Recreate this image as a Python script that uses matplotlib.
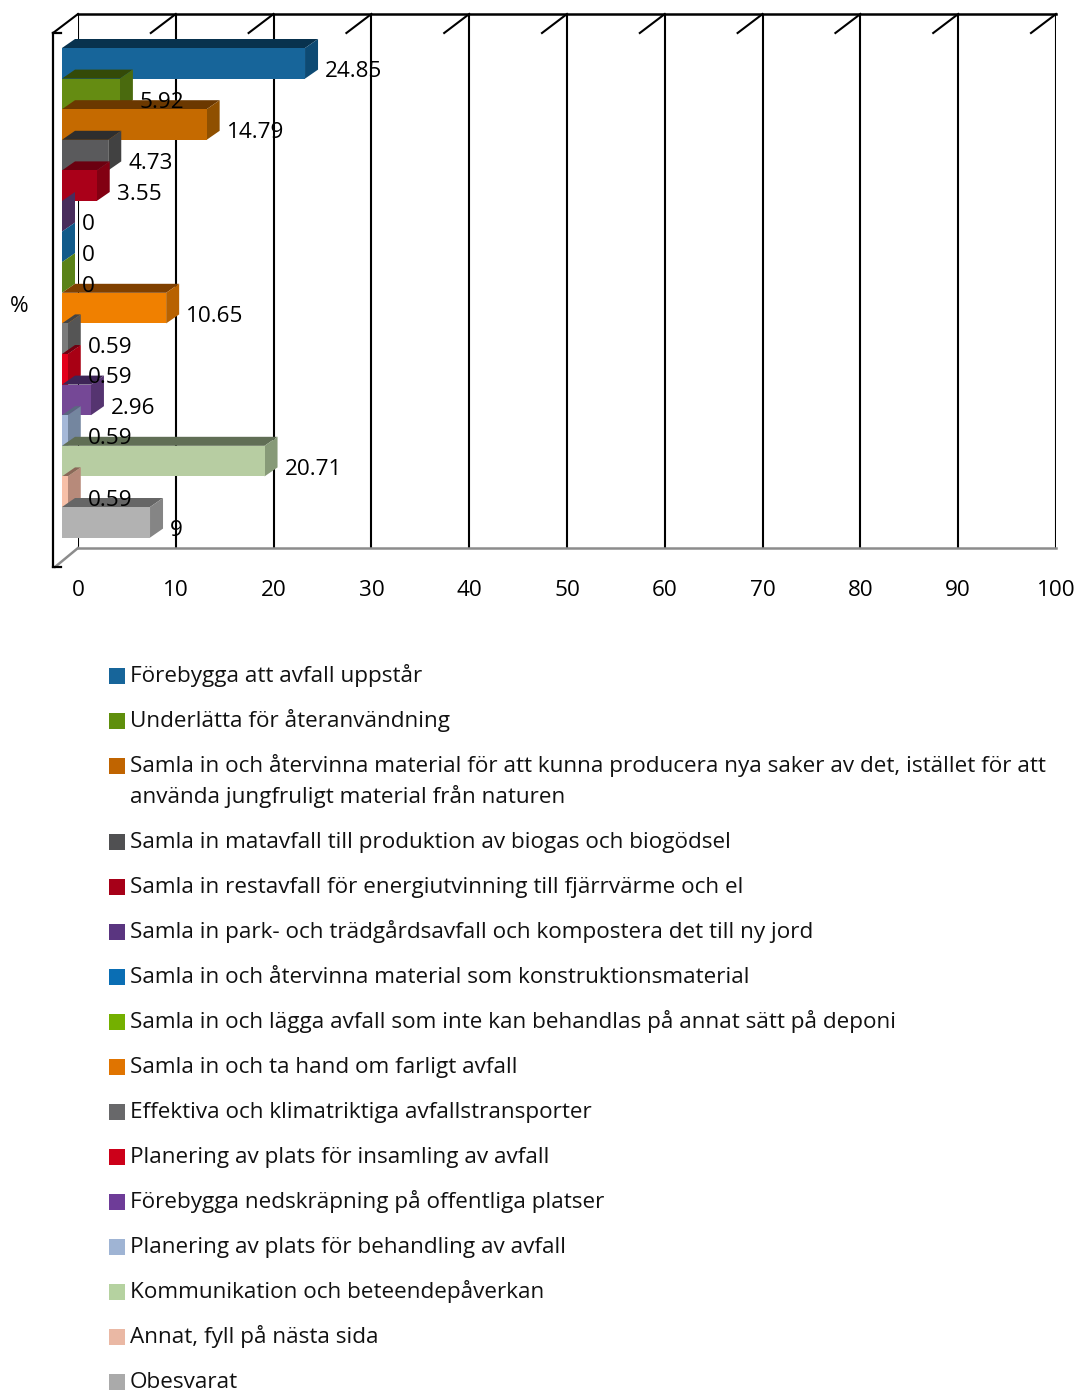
import matplotlib
matplotlib.use("Agg")
import matplotlib.pyplot as plt
from matplotlib.patches import Polygon, Rectangle

plt.rcParams['font.family'] = ['Open Sans', 'DejaVu Sans']

# ---- data -------------------------------------------------------------
categories = [
    "Förebygga att avfall uppstår",
    "Underlätta för återanvändning",
    "Samla in och återvinna material för att kunna producera nya saker av det, istället för att\nanvända jungfruligt material från naturen",
    "Samla in matavfall till produktion av biogas och biogödsel",
    "Samla in restavfall för energiutvinning till fjärrvärme och el",
    "Samla in park- och trädgårdsavfall och kompostera det till ny jord",
    "Samla in och återvinna material som konstruktionsmaterial",
    "Samla in och lägga avfall som inte kan behandlas på annat sätt på deponi",
    "Samla in och ta hand om farligt avfall",
    "Effektiva och klimatriktiga avfallstransporter",
    "Planering av plats för insamling av avfall",
    "Förebygga nedskräpning på offentliga platser",
    "Planering av plats för behandling av avfall",
    "Kommunikation och beteendepåverkan",
    "Annat, fyll på nästa sida",
    "Obesvarat",
]
values = [24.85, 5.92, 14.79, 4.73, 3.55, 0, 0, 0, 10.65, 0.59, 0.59, 2.96,
          0.59, 20.71, 0.59, 9]
value_labels = ["24.85", "5.92", "14.79", "4.73", "3.55", "0", "0", "0",
                "10.65", "0.59", "0.59", "2.96", "0.59", "20.71", "0.59", "9"]
x_ticks = [0, 10, 20, 30, 40, 50, 60, 70, 80, 90, 100]
y_axis_label = "%"

# ---- colours: front face, top face, side face ---------------------------
front_colors = ["#17659a", "#658c12", "#c56a00", "#5a5a5c", "#aa0019",
                "#5f3a7a", "#0f6eaf", "#7aae1e", "#f08000", "#7b7b7b",
                "#e3001b", "#754896", "#a5b8d8", "#b7cda2", "#f7c0a8",
                "#b2b2b2"]
top_colors = ["#08324e", "#344a08", "#6b3800", "#2e2e2e", "#6b0010",
              "#2e1a3c", "#083a5c", "#3a5510", "#804000", "#444444",
              "#700010", "#3e2556", "#5a6880", "#606e55", "#8a6858",
              "#666666"]
side_colors = ["#0d4a73", "#4a6a0e", "#8f5000", "#414141", "#820012",
               "#482c5c", "#115a8a", "#5a8218", "#b86200", "#555555",
               "#a80014", "#553470", "#74869f", "#879a78", "#b78a7a",
               "#858585"]
legend_colors = ["#17659a", "#5f8f0c", "#c06400", "#505052", "#a60018",
                 "#5a3580", "#0a6eb4", "#74b000", "#e07400", "#68686a",
                 "#cc0019", "#6e3c98", "#9fb4d4", "#b5d2a0", "#eab8a4",
                 "#aaaaaa"]

FS = 16.2
W, H = 1076, 1391
fig = plt.figure(figsize=(W / 100, H / 100), dpi=100)

# back wall of the 3-D box, in pixels
wall_l, wall_r, wall_t, wall_b = 78, 1056, 14, 548
ax = fig.add_axes([wall_l / W, 1 - wall_b / H,
                   (wall_r - wall_l) / W, (wall_b - wall_t) / H])

slot_px = 30.6                       # height of one bar in pixels
px_x = (wall_r - wall_l) / 100.0     # pixels per percent
y_top = -0.5 - 25 / slot_px
y_bot = y_top + (wall_b - wall_t) / slot_px
ax.set_xlim(0, 100)
ax.set_ylim(y_bot, y_top)


def dx(px):
    return px / px_x


def dy(px):
    return px / slot_px


# depth offsets of the bar faces relative to the back wall
fx, fy = dx(-16), dy(9)     # front face
bx, by = dx(-3), dy(0)      # back face

# ---- box: back wall grid, depth lines, front edge ----------------------
for t in x_ticks:
    ax.plot([t, t], [y_bot, y_top], color="black", lw=1.5, zorder=1,
            solid_capstyle="butt")
    ax.plot([t, t + dx(-25)], [y_top, y_top + dy(19)], color="black",
            lw=1.5, zorder=1, clip_on=False)
ax.plot([0, 100], [y_top, y_top], color="black", lw=1.8, zorder=1,
        clip_on=False)
ax.plot([0, 100], [y_bot, y_bot], color="#8c8c8c", lw=1.8, zorder=1,
        clip_on=False)
ax.plot([0, dx(-23)], [y_bot, y_bot + dy(19)], color="#8c8c8c", lw=1.8,
        zorder=1, clip_on=False)
front_x = dx(-25)
ax.plot([front_x, front_x], [y_top + dy(19), y_bot + dy(19)],
        color="black", lw=1.6, zorder=1, clip_on=False)
for yy in (y_top + dy(19), y_bot + dy(19)):
    ax.plot([front_x, front_x + dx(8)], [yy, yy], color="black", lw=1.6,
            zorder=1, clip_on=False)

for s in ax.spines.values():
    s.set_visible(False)

# ---- 3-D bars -----------------------------------------------------------
for i, v in enumerate(values):
    y0, y1 = i - 0.5, i + 0.5
    z = 3 + i * 0.01
    top = Polygon([(fx, fy + y0), (fx + v, fy + y0), (bx + v, by + y0),
                   (bx, by + y0)], closed=True, facecolor=top_colors[i],
                  edgecolor="none", zorder=z, clip_on=False)
    side = Polygon([(fx + v, fy + y0), (bx + v, by + y0), (bx + v, by + y1),
                    (fx + v, fy + y1)], closed=True,
                   facecolor=side_colors[i], edgecolor="none", zorder=z,
                   clip_on=False)
    front = Rectangle((fx, fy + y0), v, 1.0, facecolor=front_colors[i],
                      edgecolor="none", zorder=z, clip_on=False)
    ax.add_patch(top)
    ax.add_patch(side)
    ax.add_patch(front)

for i, (v, lab) in enumerate(zip(values, value_labels)):
    ax.text(bx + v + dx(7), i + dy(15), lab, ha="left",
            va="center_baseline", fontsize=FS, color="black", zorder=10)

# ---- axes labels --------------------------------------------------------
ax.set_yticks([])
ax.set_xticks(x_ticks)
ax.set_xticklabels([str(t) for t in x_ticks], fontsize=FS)
ax.tick_params(axis="x", length=0, pad=23)
ax.set_ylabel(y_axis_label, rotation=0, fontsize=FS, ha="center",
              va="center")
ax.yaxis.set_label_coords((19 - wall_l) / (wall_r - wall_l),
                          1 - (306 - wall_t) / (wall_b - wall_t))

# ---- legend -------------------------------------------------------------
row_y = 676
for name, col in zip(categories, legend_colors):
    fig.patches.append(Rectangle((109 / W, 1 - (row_y + 8) / H), 16 / W,
                                 16 / H, transform=fig.transFigure,
                                 facecolor=col, edgecolor="none"))
    lines = name.split("\n")
    for k, line in enumerate(lines):
        fig.text(130 / W, 1 - (row_y + 6 + 31 * k) / H, line, ha="left",
                 va="baseline", fontsize=FS, color="#111111")
    row_y += 45 + 31 * (len(lines) - 1)

fig.savefig("out.png", dpi=100)
